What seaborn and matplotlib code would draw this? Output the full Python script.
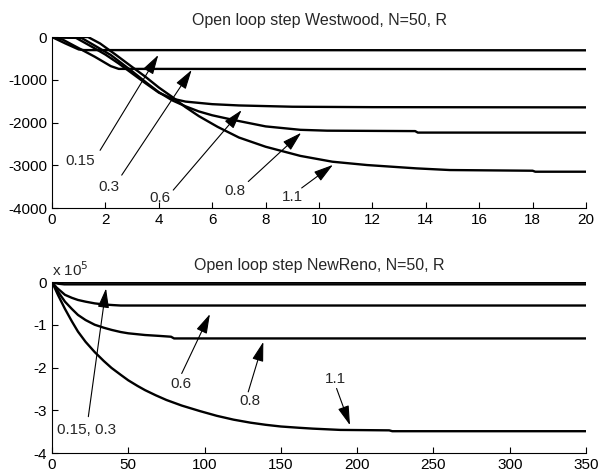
import numpy as np
import pandas as pd
import matplotlib
matplotlib.use("Agg")
import matplotlib.pyplot as plt
import seaborn as sns

# ---------------- data: Westwood (top) ----------------
ww_labels = ["0.15", "0.3", "0.6", "0.8", "1.1"]
ww_t_015 = [0, 0.5, 1.0, 1.2, 20]
ww_v_015 = [0, -150, -290, -305, -310]
ww_t_03 = [0, 0.4, 1.0, 1.6, 2.2, 2.5, 20]
ww_v_03 = [0, -60, -260, -460, -680, -745, -750]
ww_t_06 = [0, 0.9, 1.5, 2.0, 2.5, 3.0, 3.5, 4.0, 4.5, 5.0, 6.0, 7.0, 9.0, 12.0, 20]
ww_v_06 = [0, -20, -230, -410, -620, -850, -1080, -1300, -1440, -1510, -1570, -1600, -1630, -1640, -1645]
ww_t_08 = [0, 1.1, 1.6, 2.2, 3.0, 3.5, 4.0, 4.5, 5.0, 5.5, 6.0, 6.8, 8.0, 9.3, 10.3, 13.6, 13.7, 20]
ww_v_08 = [0, -20, -200, -420, -800, -1050, -1290, -1480, -1620, -1740, -1830, -1940, -2090, -2170, -2190, -2200, -2235, -2235]
ww_t_11 = [0, 1.35, 1.8, 2.4, 3.0, 3.5, 4.0, 4.5, 5.0, 5.5, 6.2, 7.0, 8.0, 9.3, 10.5, 11.8, 13.65, 14.9, 18.0, 18.1, 20]
ww_v_11 = [0, 0, -150, -420, -700, -930, -1180, -1400, -1640, -1850, -2100, -2350, -2566, -2780, -2916, -2994, -3072, -3111, -3127, -3150, -3150]

# ---------------- data: NewReno (bottom, units of 1e5) ----------------
nr_labels = ["0.15", "0.3", "0.6", "0.8", "1.1"]
nr_t_015 = [0, 3, 350]
nr_v_015 = [0, -0.01, -0.01]
nr_t_03 = [0, 4, 8, 350]
nr_v_03 = [0, -0.04, -0.055, -0.055]
nr_t_06 = [0, 3, 8.5, 13, 17, 22, 28, 34, 40, 45, 350]
nr_v_06 = [0, -0.13, -0.30, -0.37, -0.42, -0.46, -0.50, -0.525, -0.54, -0.55, -0.55]
nr_t_08 = [0, 4, 8.5, 13, 17, 22, 28, 34, 39, 45, 50, 61, 70, 78, 80, 350]
nr_v_08 = [0, -0.23, -0.46, -0.63, -0.77, -0.89, -1.00, -1.07, -1.12, -1.17, -1.20, -1.24, -1.26, -1.28, -1.32, -1.32]
nr_t_11 = [0, 4, 8.5, 13, 17, 22, 28, 34, 39, 45, 50, 56, 61, 68, 75, 85, 97, 108, 119,
           130, 140, 150, 162, 171, 189, 221, 223, 350]
nr_v_11 = [0, -0.31, -0.63, -0.92, -1.16, -1.40, -1.64, -1.85, -2.01, -2.17, -2.30, -2.43, -2.53,
           -2.65, -2.76, -2.89, -3.02, -3.13, -3.22, -3.29, -3.34, -3.38, -3.41, -3.43, -3.46,
           -3.47, -3.49, -3.49]

def long_df(labels, ts, vs):
    frames = []
    for lab, t, v in zip(labels, ts, vs):
        frames.append(pd.DataFrame({"t": t, "v": v, "R": lab}))
    return pd.concat(frames, ignore_index=True)

df_ww = long_df(ww_labels,
                [ww_t_015, ww_t_03, ww_t_06, ww_t_08, ww_t_11],
                [ww_v_015, ww_v_03, ww_v_06, ww_v_08, ww_v_11])
df_nr = long_df(nr_labels,
                [nr_t_015, nr_t_03, nr_t_06, nr_t_08, nr_t_11],
                [nr_v_015, nr_v_03, nr_v_06, nr_v_08, nr_v_11])

sns.set_style("ticks")
plt.rcParams["font.family"] = ["Liberation Sans", "DejaVu Sans"]
plt.rcParams["xtick.direction"] = "in"
plt.rcParams["ytick.direction"] = "in"
plt.rcParams["axes.unicode_minus"] = False

fig = plt.figure(figsize=(6.0, 4.75), dpi=100)
ax1 = fig.add_axes([0.0867, 0.562, 0.89, 0.360])
ax2 = fig.add_axes([0.0867, 0.0463, 0.89, 0.360])

pal = {lab: "black" for lab in ww_labels}
sns.lineplot(data=df_ww, x="t", y="v", hue="R", palette=pal, legend=False,
             estimator=None, sort=False, lw=1.7, ax=ax1)
sns.lineplot(data=df_nr, x="t", y="v", hue="R", palette=pal, legend=False,
             estimator=None, sort=False, lw=1.7, ax=ax2)

fs = 11
for ax in (ax1, ax2):
    sns.despine(ax=ax)
    ax.set_xlabel("")
    ax.set_ylabel("")
    ax.tick_params(labelsize=fs, length=4, width=0.8, colors="black")
    for s in ("left", "bottom"):
        ax.spines[s].set_linewidth(0.8)
        ax.spines[s].set_color("black")

ax1.set_xlim(0, 20)
ax1.set_ylim(-4000, 0)
ax1.set_xticks(np.arange(0, 21, 2))
ax1.set_yticks([-4000, -3000, -2000, -1000, 0])
ax1.set_title("Open loop step Westwood, N=50, R", fontsize=11.5, pad=9)

ax2.set_xlim(0, 350)
ax2.set_ylim(-4, 0)
ax2.set_xticks(np.arange(0, 351, 50))
ax2.set_yticks([-4, -3, -2, -1, 0])
ax2.set_title("Open loop step NewReno, N=50, R", fontsize=11.5, pad=9)
ax2.text(0.0, 1.02, r"x 10$^{5}$", transform=ax2.transAxes, fontsize=fs,
         ha="left", va="bottom")

arrow = dict(arrowstyle="-|>,head_length=1.2,head_width=0.35", color="black",
             lw=0.8, shrinkA=0, shrinkB=0)

# annotations: (text, text pos, tail, head)
top_ann = [("0.15", (1.05, -2900), (1.8, -2650), (3.98, -420)),
           ("0.3", (2.13, -3500), (2.61, -3230), (5.23, -770)),
           ("0.6", (4.04, -3760), (4.54, -3580), (7.1, -1710)),
           ("0.8", (6.85, -3600), (7.35, -3380), (9.33, -2240)),
           ("1.1", (9.0, -3740), (9.35, -3530), (10.52, -2990))]
for txt, tp, tail, head in top_ann:
    ax1.text(tp[0], tp[1], txt, fontsize=fs, ha="center", va="center")
    ax1.annotate("", xy=head, xytext=tail, arrowprops=arrow)

bot_ann = [("0.15, 0.3", (22.7, -3.46), (23.8, -3.15), (35.4, -0.15)),
           ("0.6", (84.5, -2.39), (85, -2.14), (103.5, -0.75)),
           ("0.8", (129.8, -2.78), (128.6, -2.57), (138.5, -1.40)),
           ("1.1", (186, -2.27), (186.5, -2.49), (195.3, -3.35))]
for txt, tp, tail, head in bot_ann:
    ax2.text(tp[0], tp[1], txt, fontsize=fs, ha="center", va="center")
    ax2.annotate("", xy=head, xytext=tail, arrowprops=arrow)

fig.savefig("out.png", dpi=100)
